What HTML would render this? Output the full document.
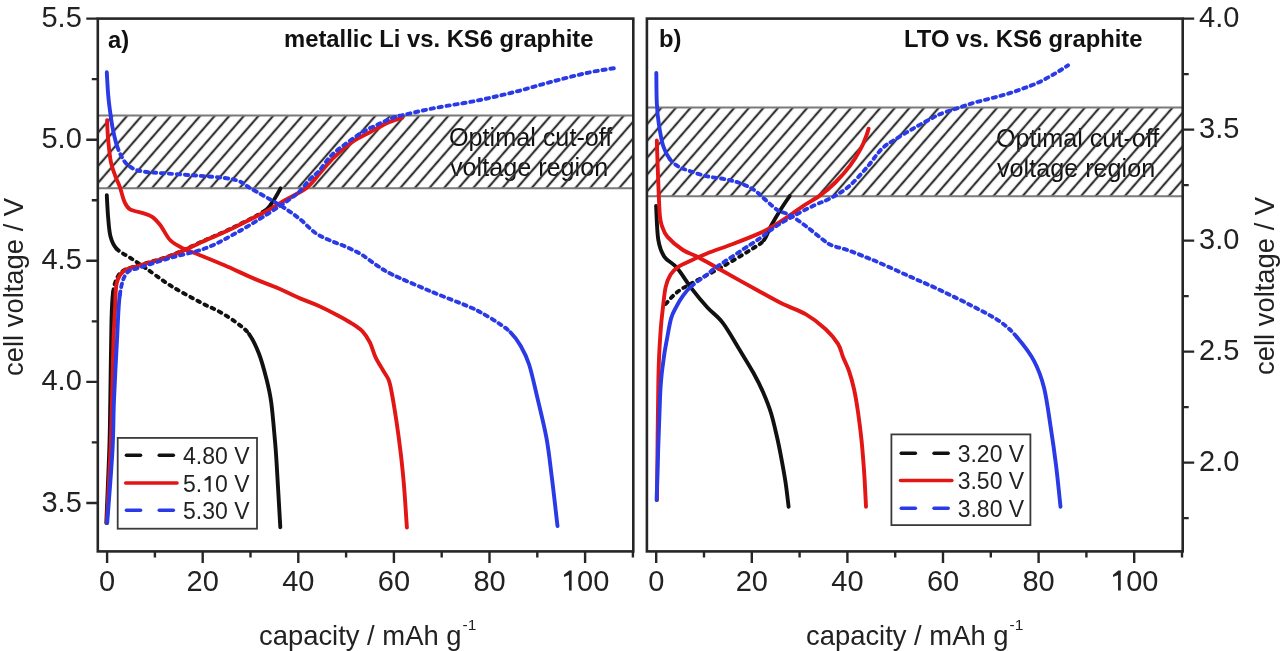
<!DOCTYPE html><html><head><meta charset="utf-8"><style>html,body{margin:0;padding:0;background:#fff;}svg{display:block;filter:blur(0.45px);}</style></head><body>
<svg width="1280" height="651" viewBox="0 0 1280 651" font-family="&quot;Liberation Sans&quot;, sans-serif">
<rect width="1280" height="651" fill="#fff"/><g>
<defs><pattern id="hatcha" patternUnits="userSpaceOnUse" width="11.02" height="11.02" patternTransform="rotate(41) translate(6.64 0)"><rect x="-1.1" y="-1" width="2.2" height="13.02" fill="#333"/><rect x="9.92" y="-1" width="2.2" height="13.02" fill="#333"/></pattern>
<pattern id="hatchb" patternUnits="userSpaceOnUse" width="11.02" height="11.02" patternTransform="rotate(41) translate(7.80 0)"><rect x="-1.1" y="-1" width="2.2" height="13.02" fill="#333"/><rect x="9.92" y="-1" width="2.2" height="13.02" fill="#333"/></pattern>
<clipPath id="ca"><rect x="97.8" y="18.6" width="535.5" height="532.8"/></clipPath>
<clipPath id="cb"><rect x="646.9" y="18.6" width="535.8000000000001" height="532.8"/></clipPath></defs>
<g font-size="25.2" fill="#111">
<text x="449" y="145.5">Optimal cut-off</text><text x="450" y="175.6">voltage region</text>
<text x="996" y="146.8">Optimal cut-off</text><text x="997" y="177.1">voltage region</text>
</g>
<rect x="97.8" y="115.47" width="535.50" height="72.65" fill="url(#hatcha)"/>
<line x1="97.8" y1="115.47" x2="633.3" y2="115.47" stroke="#7a7a7a" stroke-width="2"/>
<line x1="97.8" y1="188.13" x2="633.3" y2="188.13" stroke="#7a7a7a" stroke-width="2"/>
<rect x="646.9" y="107.40" width="535.80" height="88.80" fill="url(#hatchb)"/>
<line x1="646.9" y1="107.40" x2="1182.7" y2="107.40" stroke="#7a7a7a" stroke-width="2"/>
<line x1="646.9" y1="196.20" x2="1182.7" y2="196.20" stroke="#7a7a7a" stroke-width="2"/>
<g clip-path="url(#ca)">
<path d="M106.3,523.0 C106.8,510.8 108.6,470.5 109.3,450.0 C110.0,429.5 109.9,421.7 110.3,400.0 C110.7,378.3 111.0,338.0 111.5,320.0 C112.0,302.0 112.1,299.3 113.1,292.2" fill="none" stroke="#111111" stroke-width="3.9" stroke-linejoin="round" stroke-linecap="round"/><path d="M262.9,212.0 C269.4,208.0 268.4,207.7 271.4,203.8 C274.3,199.9 279.1,191.0 280.6,188.4" fill="none" stroke="#111111" stroke-width="3.9" stroke-linejoin="round" stroke-linecap="round"/><path d="M113.1,292.2 C114.1,285.1 115.4,280.9 117.4,277.2 C119.4,273.4 121.1,271.7 124.9,269.7 C128.7,267.7 132.4,267.4 140.0,265.0 C147.6,262.6 160.5,259.4 170.7,255.5 C180.9,251.6 191.2,246.4 201.4,241.8 C211.7,237.2 221.9,233.0 232.2,228.0 C242.4,223.0 256.4,216.0 262.9,212.0" fill="none" stroke="#111111" stroke-width="3.9" stroke-linejoin="round" stroke-linecap="round" stroke-dasharray="2.8 5.2"/>
<path d="M106.8,195.2 C107.0,198.8 107.5,210.0 108.1,216.9 C108.7,223.8 109.1,231.2 110.5,236.5 C111.9,241.8 113.2,245.1 116.7,248.8" fill="none" stroke="#111111" stroke-width="3.9" stroke-linejoin="round" stroke-linecap="round"/><path d="M249.1,334.1 C252.8,339.2 256.1,346.3 259.0,353.7 C261.9,361.1 264.2,370.1 266.3,378.3 C268.4,386.5 269.9,392.6 271.3,402.9 C272.7,413.2 274.0,430.0 274.9,440.0 C275.8,450.0 275.7,448.6 276.6,463.1 C277.5,477.6 279.7,516.5 280.3,527.2" fill="none" stroke="#111111" stroke-width="3.9" stroke-linejoin="round" stroke-linecap="round"/><path d="M116.7,248.8 C120.2,252.5 126.5,255.3 131.4,258.6 C136.3,261.9 139.6,264.0 146.2,268.5 C152.8,273.0 161.7,280.1 170.7,285.7 C179.7,291.3 191.8,297.7 200.0,302.1 C208.2,306.5 213.5,308.4 219.7,311.9 C225.8,315.4 232.0,319.3 236.9,323.0 C241.8,326.7 245.4,329.0 249.1,334.1" fill="none" stroke="#111111" stroke-width="3.9" stroke-linejoin="round" stroke-linecap="round" stroke-dasharray="2.8 5.2"/>
<path d="M106.8,523.0 C107.4,510.8 109.6,470.5 110.5,450.0 C111.4,429.5 111.5,418.3 112.0,400.0 C112.5,381.7 113.0,355.0 113.5,340.0 C114.0,325.0 114.5,319.5 115.0,310.0 C115.5,300.5 115.2,289.7 116.7,283.2 C118.2,276.7 120.1,273.9 124.0,270.9 C127.9,267.9 132.2,267.8 140.0,265.3 C147.8,262.8 160.5,259.9 170.7,256.0 C180.9,252.2 191.2,246.8 201.4,242.2 C211.7,237.6 221.9,233.3 232.2,228.4 C242.4,223.5 254.0,217.7 262.9,213.0 C271.8,208.3 278.1,204.2 285.4,200.0 C292.7,195.8 301.0,192.2 306.9,187.6 C312.8,183.0 316.1,177.3 320.7,172.2 C325.3,167.1 329.1,162.0 334.5,156.9 C339.9,151.8 347.1,145.6 353.0,141.5 C358.9,137.4 364.3,135.4 369.9,132.3 C375.5,129.2 381.4,125.5 386.8,123.1 C392.2,120.7 399.6,118.6 402.2,117.7" fill="none" stroke="#e31616" stroke-width="3.9" stroke-linejoin="round" stroke-linecap="round"/>
<path d="M107.1,120.1 C107.2,123.0 107.4,130.7 108.0,137.6 C108.6,144.5 109.6,155.1 110.8,161.6 C112.0,168.1 113.9,172.0 115.4,176.3 C116.9,180.6 118.5,183.0 120.0,187.3 C121.5,191.6 122.9,198.4 124.6,202.1 C126.3,205.8 127.0,207.6 130.1,209.4 C133.2,211.2 139.3,211.9 143.0,213.1 C146.7,214.3 149.4,215.0 152.2,216.8 C155.0,218.7 157.8,222.0 159.6,224.2 C161.4,226.4 161.5,227.2 163.3,229.9 C165.2,232.7 167.4,237.6 170.7,240.7 C174.0,243.8 178.4,246.1 183.0,248.4 C187.6,250.7 191.5,251.7 198.4,254.5 C205.3,257.3 215.0,261.2 224.5,265.3 C234.0,269.4 246.2,275.3 255.2,279.1 C264.1,282.9 270.7,285.1 278.2,288.3 C285.7,291.5 293.3,295.5 300.0,298.4 C306.7,301.3 312.2,303.0 318.4,305.8 C324.5,308.6 331.4,312.1 336.9,315.0 C342.4,317.9 347.3,320.5 351.6,323.3 C355.9,326.1 359.6,328.4 362.7,331.6 C365.8,334.8 367.9,338.4 370.0,342.7 C372.1,347.0 373.4,352.8 375.6,357.4 C377.8,362.0 380.9,366.6 383.0,370.3 C385.1,374.0 387.1,376.2 388.5,379.5 C389.9,382.8 389.8,382.9 391.2,390.0 C392.6,397.1 395.0,411.6 396.6,422.3 C398.2,433.1 399.6,443.8 400.9,454.5 C402.1,465.2 403.1,474.6 404.1,486.8 C405.1,499.0 406.4,520.8 406.9,527.6" fill="none" stroke="#e31616" stroke-width="3.9" stroke-linejoin="round" stroke-linecap="round"/>
<path d="M107.2,523.0 C108.1,510.8 111.4,470.5 112.5,450.0 C113.6,429.5 113.2,418.3 114.0,400.0 C114.8,381.7 116.0,357.5 117.0,340.0 C118.0,322.5 118.2,306.1 119.8,295.0" fill="none" stroke="#2a3ae6" stroke-width="3.9" stroke-linejoin="round" stroke-linecap="round"/><path d="M119.8,295.0 C121.4,283.9 123.1,278.0 126.5,273.4 C129.9,268.8 132.8,270.1 140.0,267.5 C147.2,264.9 159.1,261.2 170.0,258.0 C180.9,254.8 194.4,252.5 205.4,248.3 C216.4,244.1 225.9,238.6 236.1,233.0 C246.3,227.4 257.9,220.1 266.8,214.5 C275.8,208.9 284.3,203.1 289.8,199.2 C295.3,195.3 296.6,194.3 300.0,191.0 C303.4,187.7 306.8,182.6 310.0,179.2 C313.2,175.8 315.6,174.7 319.2,170.7 C322.8,166.7 326.9,159.9 331.5,155.3 C336.1,150.7 341.7,146.8 346.8,143.0 C351.9,139.2 357.1,135.4 362.2,132.3 C367.3,129.2 372.5,127.0 377.6,124.6 C382.7,122.2 387.9,119.5 393.0,117.7 C398.1,115.9 400.9,115.5 408.3,113.8 C415.7,112.1 426.4,109.6 437.5,107.5 C448.6,105.4 462.5,103.5 475.0,101.0 C487.5,98.5 500.0,95.6 512.5,92.5 C525.0,89.4 537.5,85.5 550.0,82.2 C562.5,78.9 576.4,75.2 587.5,72.8 C598.6,70.4 611.8,68.6 616.6,67.8" fill="none" stroke="#2a3ae6" stroke-width="3.9" stroke-linejoin="round" stroke-linecap="round" stroke-dasharray="3.3 4.7"/>
<path d="M106.8,72.3 C107.0,76.1 107.7,88.7 108.2,95.0 C108.7,101.3 109.2,104.4 109.9,110.0 C110.7,115.6 111.5,122.3 112.7,128.4 C113.9,134.5 115.3,141.3 117.3,146.8" fill="none" stroke="#2a3ae6" stroke-width="3.9" stroke-linejoin="round" stroke-linecap="round"/><path d="M510.5,332.3 C514.5,336.2 517.5,340.4 520.6,345.8 C523.7,351.2 526.3,355.8 529.1,364.5 C531.9,373.2 534.6,386.1 537.5,398.3 C540.4,410.5 544.0,424.7 546.4,437.6 C548.8,450.5 549.8,460.9 551.6,475.6 C553.5,490.3 556.5,517.6 557.5,526.0" fill="none" stroke="#2a3ae6" stroke-width="3.9" stroke-linejoin="round" stroke-linecap="round"/><path d="M117.3,146.8 C119.3,152.3 121.8,157.9 124.6,161.6 C127.3,165.3 130.4,167.2 133.8,168.9 C137.2,170.6 139.4,170.9 144.9,171.7 C150.4,172.5 158.6,172.9 167.0,173.5 C175.4,174.1 185.7,174.8 195.3,175.5 C204.9,176.2 217.4,177.0 224.8,178.0 C232.2,179.0 235.3,179.7 239.5,181.4 C243.7,183.1 243.0,183.9 250.0,188.0 C257.0,192.1 273.0,200.8 281.3,206.0 C289.6,211.2 294.3,214.7 300.0,219.2 C305.7,223.7 310.3,229.4 315.4,233.0 C320.5,236.6 325.6,238.4 330.7,240.7 C335.8,243.0 341.0,244.5 346.1,246.8 C351.2,249.1 356.3,251.4 361.4,254.5 C366.5,257.6 371.7,262.0 376.8,265.3 C381.9,268.6 383.3,270.2 392.2,274.5 C401.1,278.8 417.2,285.6 430.0,291.0 C442.8,296.4 460.5,303.1 468.8,306.6 C477.1,310.1 475.3,309.4 480.0,312.0 C484.7,314.6 491.8,318.7 496.9,322.1 C502.0,325.5 506.6,328.4 510.5,332.3" fill="none" stroke="#2a3ae6" stroke-width="3.9" stroke-linejoin="round" stroke-linecap="round" stroke-dasharray="3.3 4.7"/>
</g>
<g clip-path="url(#cb)">
<path d="M764.0,240.0 C766.9,236.3 768.2,230.8 771.1,225.6 C774.0,220.4 778.1,213.6 781.2,208.7 C784.3,203.8 788.3,198.1 789.7,196.0" fill="none" stroke="#111111" stroke-width="3.9" stroke-linejoin="round" stroke-linecap="round"/><path d="M665.7,304.0 C667.5,302.1 672.3,296.0 676.7,292.5 C681.1,289.0 684.4,287.3 692.1,283.0 C699.8,278.7 712.6,272.3 722.8,266.5 C733.0,260.7 746.6,252.4 753.5,248.0 C760.4,243.6 761.1,243.7 764.0,240.0" fill="none" stroke="#111111" stroke-width="3.9" stroke-linejoin="round" stroke-linecap="round" stroke-dasharray="2.8 5.2"/>
<path d="M656.1,205.9 C656.5,211.6 656.9,231.4 658.3,239.9 C659.7,248.4 661.3,252.2 664.4,256.8 C667.5,261.4 672.1,262.2 676.7,267.6 C681.3,273.0 687.0,282.5 692.1,289.1 C697.2,295.8 702.3,301.9 707.4,307.5 C712.5,313.1 717.7,316.2 722.8,322.9 C727.9,329.6 733.1,339.1 738.2,347.5 C743.3,355.9 749.4,365.6 753.5,373.0 C757.6,380.4 760.1,385.3 763.0,392.0 C765.9,398.7 768.7,405.5 771.0,413.0 C773.3,420.5 775.2,429.3 777.0,437.0 C778.8,444.7 780.1,451.6 781.5,459.1 C782.9,466.6 784.3,474.1 785.5,482.0 C786.7,489.9 788.1,502.6 788.6,506.7" fill="none" stroke="#111111" stroke-width="3.9" stroke-linejoin="round" stroke-linecap="round"/>
<path d="M657.0,500.0 C657.2,479.7 657.8,406.6 658.4,378.3 C659.0,350.0 659.9,342.2 660.7,330.0 C661.5,317.8 662.4,312.5 663.2,305.3 C664.0,298.1 664.5,292.0 665.7,286.9 C666.9,281.8 668.6,277.9 670.6,274.6 C672.6,271.3 674.8,269.4 678.0,267.2 C681.2,264.9 685.2,263.4 690.0,261.1 C694.8,258.8 699.9,256.3 706.9,253.5 C713.9,250.7 723.8,247.4 732.2,244.2 C740.7,241.0 751.1,236.9 757.6,234.1 C764.1,231.3 766.6,229.8 771.1,227.3 C775.6,224.8 779.3,222.4 784.6,218.9 C789.9,215.4 797.1,210.0 803.0,206.1 C808.9,202.2 814.8,199.3 820.2,195.4 C825.6,191.5 830.3,187.5 835.3,182.5 C840.3,177.5 846.0,171.0 850.3,165.3 C854.6,159.6 858.4,153.1 861.1,148.1 C863.8,143.1 865.2,138.4 866.5,135.2 C867.8,132.0 868.2,129.8 868.6,128.7" fill="none" stroke="#e31616" stroke-width="3.9" stroke-linejoin="round" stroke-linecap="round"/>
<path d="M656.8,140.5 C657.0,147.6 657.8,170.5 658.3,182.9 C658.8,195.3 659.2,207.8 659.8,215.0 C660.4,222.2 660.7,222.3 662.0,226.0 C663.3,229.7 664.0,232.9 667.5,236.9 C671.0,240.9 677.7,246.6 682.9,250.0 C688.1,253.4 692.1,253.9 698.8,257.4 C705.4,260.9 713.1,265.6 722.8,271.0 C732.5,276.4 747.1,284.6 756.9,290.0 C766.7,295.4 773.2,299.2 781.4,303.3 C789.6,307.4 798.6,310.1 806.0,314.4 C813.4,318.7 820.4,324.3 825.7,329.2 C831.0,334.1 835.1,339.3 838.0,343.9 C840.9,348.5 841.2,352.5 843.0,357.0 C844.8,361.5 847.2,365.7 849.0,371.0 C850.8,376.3 852.5,382.2 854.0,389.0 C855.5,395.8 856.8,403.5 858.0,412.0 C859.2,420.5 860.5,430.3 861.5,440.0 C862.5,449.7 863.2,458.9 864.0,470.0 C864.8,481.1 865.7,500.6 866.0,506.7" fill="none" stroke="#e31616" stroke-width="3.9" stroke-linejoin="round" stroke-linecap="round"/>
<path d="M656.6,500.0 C657.2,482.7 659.0,419.3 660.1,396.0 C661.2,372.7 662.4,369.3 663.5,360.0 C664.6,350.7 665.5,346.9 666.8,340.0 C668.1,333.1 669.5,324.0 671.1,318.4 C672.7,312.8 674.4,310.4 676.4,306.6 C678.4,302.8 680.4,299.2 682.9,295.8 C685.4,292.4 687.6,289.5 691.5,286.1" fill="none" stroke="#2a3ae6" stroke-width="3.9" stroke-linejoin="round" stroke-linecap="round"/><path d="M691.5,286.1 C695.4,282.7 702.0,278.4 706.0,275.4 C710.0,272.4 709.5,272.0 715.3,267.9 C721.1,263.8 733.1,256.1 740.7,251.0 C748.3,245.9 755.4,241.4 761.0,237.5 C766.6,233.6 769.4,230.7 774.5,227.3 C779.6,223.9 784.9,220.8 791.4,217.2 C797.9,213.6 807.4,208.6 813.8,205.5 C820.2,202.4 824.2,201.6 830.0,198.5 C835.8,195.4 842.2,192.0 848.4,186.8 C854.5,181.6 861.4,173.7 866.9,167.4 C872.4,161.1 877.0,153.6 881.6,149.0 C886.2,144.4 889.3,143.2 894.5,139.8 C899.7,136.4 906.9,132.2 913.0,128.7 C919.1,125.1 926.9,120.9 931.4,118.5 C935.9,116.1 935.8,115.8 940.0,114.1 C944.2,112.4 950.9,110.4 956.4,108.6 C961.9,106.8 967.3,104.7 972.8,103.1 C978.3,101.5 983.7,100.2 989.2,98.8 C994.7,97.3 1000.1,96.1 1005.6,94.4 C1011.1,92.8 1016.5,90.9 1022.0,88.9 C1027.5,86.9 1033.0,85.0 1038.5,82.4 C1044.0,79.9 1050.0,76.4 1054.9,73.6 C1059.8,70.8 1065.8,66.8 1068.0,65.4" fill="none" stroke="#2a3ae6" stroke-width="3.9" stroke-linejoin="round" stroke-linecap="round" stroke-dasharray="3.3 4.7"/>
<path d="M656.3,72.9 C656.4,77.9 656.4,94.4 656.8,103.0 C657.2,111.6 657.8,117.3 658.9,124.5 C660.0,131.7 661.4,140.3 663.2,146.0 C665.0,151.7 667.2,155.5 669.7,158.9" fill="none" stroke="#2a3ae6" stroke-width="3.9" stroke-linejoin="round" stroke-linecap="round"/><path d="M1017.0,337.2 C1022.7,343.8 1029.5,352.4 1034.0,360.9 C1038.5,369.4 1041.3,376.7 1044.1,388.0 C1046.9,399.3 1048.9,415.8 1050.9,428.6 C1052.9,441.4 1054.4,452.0 1056.0,465.0 C1057.6,478.0 1059.8,499.8 1060.5,506.7" fill="none" stroke="#2a3ae6" stroke-width="3.9" stroke-linejoin="round" stroke-linecap="round"/><path d="M669.7,158.9 C672.2,162.3 675.1,164.5 678.3,166.5 C681.5,168.5 684.4,169.2 689.0,170.8 C693.6,172.4 700.0,174.7 706.2,176.1 C712.4,177.5 720.2,178.2 726.0,179.4 C731.8,180.6 736.0,181.6 740.7,183.4 C745.4,185.2 750.0,187.3 754.2,190.1 C758.4,192.9 762.0,196.9 766.0,200.3 C770.0,203.7 773.9,207.9 777.9,210.4 C781.9,212.9 785.2,212.3 790.0,215.1 C794.8,217.8 801.3,222.7 806.9,226.9 C812.5,231.1 819.6,237.3 823.8,240.4 C828.0,243.5 828.0,243.8 832.2,245.5 C836.4,247.2 843.5,248.6 849.1,250.6 C854.7,252.6 860.9,255.2 866.0,257.3 C871.1,259.4 872.5,259.7 880.0,263.0 C887.5,266.3 900.5,272.3 910.7,276.9 C920.9,281.5 931.1,285.8 941.4,290.7 C951.6,295.6 962.5,300.9 972.2,306.0 C981.9,311.1 992.3,316.2 999.8,321.4 C1007.3,326.6 1011.3,330.6 1017.0,337.2" fill="none" stroke="#2a3ae6" stroke-width="3.9" stroke-linejoin="round" stroke-linecap="round" stroke-dasharray="3.3 4.7"/>
</g>
<rect x="97.8" y="18.6" width="535.50" height="532.80" fill="none" stroke="#262626" stroke-width="2.6"/>
<rect x="646.9" y="18.6" width="535.80" height="532.80" fill="none" stroke="#262626" stroke-width="2.6"/>
<path d="M107.10,551.4 v11.5 M656.20,551.4 v11.5 M154.90,551.4 v6 M704.00,551.4 v6 M202.70,551.4 v11.5 M751.80,551.4 v11.5 M250.50,551.4 v6 M799.60,551.4 v6 M298.30,551.4 v11.5 M847.40,551.4 v11.5 M346.10,551.4 v6 M895.20,551.4 v6 M393.90,551.4 v11.5 M943.00,551.4 v11.5 M441.70,551.4 v6 M990.80,551.4 v6 M489.50,551.4 v11.5 M1038.60,551.4 v11.5 M537.30,551.4 v6 M1086.40,551.4 v6 M585.10,551.4 v11.5 M1134.20,551.4 v11.5 M632.90,551.4 v6 M1182.00,551.4 v6 M97.8,502.96 h-11.5 M97.8,442.42 h-6 M97.8,381.87 h-11.5 M97.8,321.33 h-6 M97.8,260.78 h-11.5 M97.8,200.24 h-6 M97.8,139.69 h-11.5 M97.8,79.15 h-6 M97.8,18.60 h-11.5 M1182.7,518.10 h6 M1182.7,462.60 h11.5 M1182.7,407.10 h6 M1182.7,351.60 h11.5 M1182.7,296.10 h6 M1182.7,240.60 h11.5 M1182.7,185.10 h6 M1182.7,129.60 h11.5 M1182.7,74.10 h6 M1182.7,18.60 h11.5" stroke="#262626" stroke-width="2.4" fill="none"/>
<g font-size="29" fill="#222">
<text x="99.04" y="590.60" font-size="29" fill="#222" xml:space="preserve">0</text>
<text x="648.14" y="590.60" font-size="29" fill="#222" xml:space="preserve">0</text>
<text x="186.58" y="590.60" font-size="29" fill="#222" xml:space="preserve">20</text>
<text x="735.68" y="590.60" font-size="29" fill="#222" xml:space="preserve">20</text>
<text x="282.18" y="590.60" font-size="29" fill="#222" xml:space="preserve">40</text>
<text x="831.28" y="590.60" font-size="29" fill="#222" xml:space="preserve">40</text>
<text x="377.78" y="590.60" font-size="29" fill="#222" xml:space="preserve">60</text>
<text x="926.88" y="590.60" font-size="29" fill="#222" xml:space="preserve">60</text>
<text x="473.38" y="590.60" font-size="29" fill="#222" xml:space="preserve">80</text>
<text x="1022.48" y="590.60" font-size="29" fill="#222" xml:space="preserve">80</text>
<path d="M571.64,570.59 L571.64,590.60 L568.95,590.60 L568.95,575.09 L563.96,577.12 L563.96,574.65 L569.32,570.59 Z" fill="#222"/><text x="577.04" y="590.60" font-size="29" fill="#222" xml:space="preserve">00</text>
<path d="M1120.74,570.59 L1120.74,590.60 L1118.05,590.60 L1118.05,575.09 L1113.06,577.12 L1113.06,574.65 L1118.42,570.59 Z" fill="#222"/><text x="1126.14" y="590.60" font-size="29" fill="#222" xml:space="preserve">00</text>
<text x="81.8" y="511.56" text-anchor="end">3.5</text>
<text x="81.8" y="390.47" text-anchor="end">4.0</text>
<text x="81.8" y="269.38" text-anchor="end">4.5</text>
<text x="81.8" y="148.29" text-anchor="end">5.0</text>
<text x="81.8" y="27.20" text-anchor="end">5.5</text>
<text x="1199" y="471.20">2.0</text>
<text x="1199" y="360.20">2.5</text>
<text x="1199" y="249.20">3.0</text>
<text x="1199" y="138.20">3.5</text>
<text x="1199" y="27.20">4.0</text>
</g>
<g font-size="27.4" fill="#222">
<text x="259" y="645">capacity / mAh g<tspan font-size="15.5" dy="-15.2" dx="1">-1</tspan></text>
<text x="806" y="645">capacity / mAh g<tspan font-size="15.5" dy="-15.2" dx="1">-1</tspan></text>
<text transform="translate(23.3,376) rotate(-90)">cell voltage / V</text>
<text transform="translate(1273.8,375) rotate(-90)">cell voltage / V</text>
</g>
<g font-size="23.8" font-weight="bold" fill="#111">
<text x="108" y="47.5">a)</text><text x="284" y="47">metallic Li vs. KS6 graphite</text>
<text x="659" y="47.3">b)</text><text x="904" y="47.3">LTO vs. KS6 graphite</text>
</g>
<rect x="117.7" y="437.9" width="139.3" height="90.8" fill="#fff" stroke="#3a3a3a" stroke-width="1.8"/><line x1="126.4" y1="455.3" x2="140.60000000000002" y2="455.3" stroke="#111111" stroke-width="3.4" stroke-linecap="round"/><line x1="159.20000000000002" y1="455.3" x2="173.4" y2="455.3" stroke="#111111" stroke-width="3.4" stroke-linecap="round"/><text x="183.00" y="464.10" font-size="23" fill="#222" xml:space="preserve">4.80 V</text><line x1="125.60000000000001" y1="483" x2="177.10000000000002" y2="483" stroke="#e31616" stroke-width="3.4" stroke-linecap="round"/><text x="183.00" y="491.80" font-size="23" fill="#222" xml:space="preserve">5.</text><path d="M210.69,475.93 L210.69,491.80 L208.55,491.80 L208.55,479.50 L204.60,481.11 L204.60,479.15 L208.85,475.93 Z" fill="#222"/><text x="214.97" y="491.80" font-size="23" fill="#222" xml:space="preserve">0 V</text><line x1="126.4" y1="510.2" x2="140.60000000000002" y2="510.2" stroke="#2a3ae6" stroke-width="3.4" stroke-linecap="round"/><line x1="159.20000000000002" y1="510.2" x2="173.4" y2="510.2" stroke="#2a3ae6" stroke-width="3.4" stroke-linecap="round"/><text x="183.00" y="519.00" font-size="23" fill="#222" xml:space="preserve">5.30 V</text>
<rect x="891.4" y="434.4" width="139.0" height="90.7" fill="#fff" stroke="#3a3a3a" stroke-width="1.8"/><line x1="901.1999999999999" y1="453.3" x2="915.4" y2="453.3" stroke="#111111" stroke-width="3.4" stroke-linecap="round"/><line x1="934.0" y1="453.3" x2="948.1999999999999" y2="453.3" stroke="#111111" stroke-width="3.4" stroke-linecap="round"/><text x="957.70" y="462.10" font-size="23" fill="#222" xml:space="preserve">3.20 V</text><line x1="900.4" y1="480.5" x2="951.9" y2="480.5" stroke="#e31616" stroke-width="3.4" stroke-linecap="round"/><text x="957.70" y="489.30" font-size="23" fill="#222" xml:space="preserve">3.50 V</text><line x1="901.1999999999999" y1="508.2" x2="915.4" y2="508.2" stroke="#2a3ae6" stroke-width="3.4" stroke-linecap="round"/><line x1="934.0" y1="508.2" x2="948.1999999999999" y2="508.2" stroke="#2a3ae6" stroke-width="3.4" stroke-linecap="round"/><text x="957.70" y="517.00" font-size="23" fill="#222" xml:space="preserve">3.80 V</text>
</g></svg></body></html>
